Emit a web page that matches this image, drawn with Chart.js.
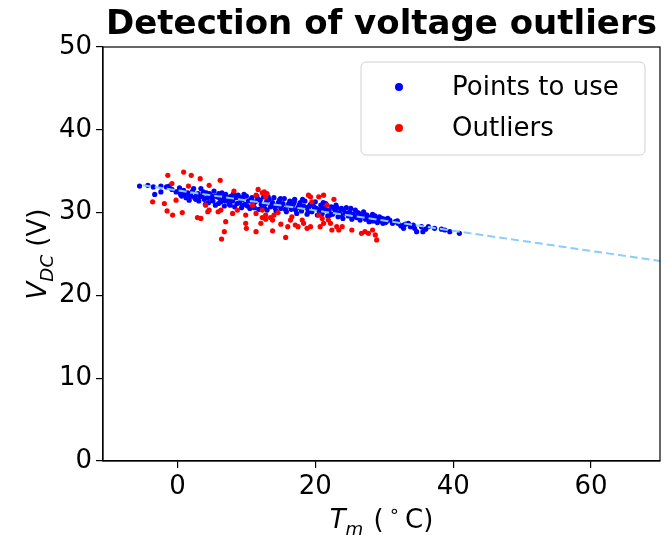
<!DOCTYPE html>
<html lang="en">
<head>
<meta charset="UTF-8">
<title>Detection of voltage outliers</title>
<script src="https://cdn.jsdelivr.net/npm/chart.js"></script>
<style>
    body { margin: 0; padding: 0; background: #fff; }
    #chart { display: block; }
</style>
</head>
<body>
<canvas id="chart" width="664" height="536"></canvas>
<script>
// points kept by the fit (T_m in °C, V_DC in V)
const usedT = [
    -5.5, -4.3, -3.5, -3.3, -2.4, -2.4, -1.6, -1.2, -0.8, -0.2,
    0.3, 0.6, 1.0, 1.7, 1.7, 2.2, 2.5, 2.8, 3.1, 3.4,
    3.6, 3.9, 4.2, 4.5, 4.8, 5.0, 5.3, 5.5, 5.8, 6.0,
    6.3, 6.6, 6.8, 7.0, 7.3, 7.5, 7.8, 8.0, 8.3, 8.5,
    8.8, 9.0, 9.3, 9.5, 9.8, 10.0, 10.3, 10.5, 10.8, 11.0,
    11.3, 11.5, 11.8, 12.0, 12.3, 12.5, 12.8, 13.0, 13.3, 13.5,
    13.8, 14.0, 14.3, 14.5, 14.8, 15.0, 15.3, 15.5, 15.8, 16.0,
    16.3, 16.5, 16.8, 17.0, 17.3, 17.5, 17.8, 18.0, 18.3, 18.5,
    18.8, 19.0, 19.3, 19.5, 19.8, 20.0, 20.3, 20.5, 20.8, 21.0,
    21.3, 21.5, 21.8, 22.0, 22.3, 22.5, 22.8, 23.0, 23.3, 23.5,
    23.8, 24.0, 24.3, 24.5, 24.8, 25.0, 25.3, 25.5, 25.8, 26.0,
    26.3, 26.5, 26.8, 27.0, 27.3, 27.5, 27.8, 28.0, 28.3, 28.5,
    28.8, 29.0, 29.3, 29.5, 29.8, 30.0, 30.3, 30.8, 31.6, 32.0,
    32.8, 32.8, 33.5, 34.2, 34.4, 34.7, 35.4, 35.6, 36.4, 37.3,
    38.3, 39.5, 40.9,
    0.15, 0.45, 0.9, 1.25, 1.5, 2.0, 2.35, 2.65, 3.0, 3.25,
    3.75, 4.05, 4.35, 4.65, 5.15, 5.45, 5.95, 6.15, 6.45, 6.95,
    7.15, 7.65, 7.95, 8.15, 8.65, 9.15, 9.45, 9.65, 10.15, 10.65,
    10.95, 11.15, 11.65, 12.15, 12.65, 12.95, 13.15, 13.65, 14.15, 14.65,
    14.95, 15.15, 15.65, 16.15, 16.65, 16.95, 17.15, 17.65, 18.15, 18.65,
    18.95, 19.15, 19.65, 20.15, 20.65, 20.95, 21.15, 21.65, 22.15, 22.65,
    22.95, 23.15, 23.65, 24.15, 24.65, 25.15, 25.65, 26.15, 26.65, 27.15,
    27.65, 28.15, 28.65, 29.15, 29.65, 30.15, 30.5, 31.2, 31.9, 32.4,
    33.1, 33.8, 36.0, 38.8
];
const usedV = [
    33.2, 33.3, 33.1, 32.2, 33.2, 32.5, 33.1, 33.2, 32.8, 32.5,
    33.0, 32.0, 32.3, 31.9, 31.5, 32.6, 31.8, 32.2, 31.4, 32.9,
    32.0, 31.6, 32.4, 31.2, 32.1, 31.7, 32.6, 30.9, 31.9, 32.3,
    31.3, 31.8, 30.8, 32.2, 31.5, 31.0, 32.0, 31.4, 30.7, 31.8,
    32.1, 31.2, 30.6, 31.6, 31.0, 32.0, 31.4, 30.5, 31.8, 30.9,
    31.3, 32.0, 30.4, 31.5, 30.8, 31.9, 31.1, 30.3, 31.6, 30.7,
    31.2, 31.8, 30.2, 30.9, 31.5, 30.5, 31.1, 31.7, 30.1, 30.8,
    31.4, 30.4, 31.0, 31.6, 29.9, 30.6, 31.2, 30.2, 30.8, 31.4,
    29.8, 30.5, 31.0, 30.1, 30.7, 31.3, 29.7, 30.3, 30.9, 29.9,
    30.5, 31.1, 29.6, 30.2, 30.7, 29.8, 30.4, 30.9, 29.5, 30.0,
    30.5, 29.3, 29.9, 30.6, 29.6, 30.1, 29.2, 29.8, 30.3, 29.4,
    29.9, 29.1, 29.6, 30.1, 29.2, 29.7, 28.9, 29.4, 29.8, 29.0,
    29.3, 28.8, 29.5, 29.0, 28.7, 29.2, 28.9, 29.1, 28.9, 28.7,
    28.5, 28.1, 28.7, 28.5, 28.1, 27.7, 28.3, 27.7, 28.3, 28.1,
    28.0, 27.7, 27.5,
    32.6, 32.2, 32.7, 31.8, 32.4, 32.0, 32.9, 31.6, 32.3, 31.9,
    32.5, 31.0, 31.8, 32.3, 31.4, 32.0, 31.1, 31.7, 32.4, 31.4,
    31.9, 30.9, 31.7, 32.3, 31.1, 31.8, 30.9, 32.2, 30.8, 31.6,
    31.1, 30.6, 31.7, 31.0, 30.5, 31.4, 31.9, 31.0, 30.6, 31.2,
    31.7, 30.9, 30.4, 31.1, 30.7, 31.3, 30.3, 30.9, 31.6, 30.6,
    30.1, 30.8, 31.2, 30.5, 30.0, 30.6, 31.2, 30.3, 29.7, 30.6,
    30.1, 30.6, 29.7, 30.3, 29.9, 30.5, 29.5, 30.0, 29.5, 29.8,
    29.4, 29.0, 29.6, 29.2, 29.3, 28.8, 29.3, 28.7, 29.0, 28.4,
    28.6, 28.3, 28.0, 27.9
];

// outliers
const outT = [
    -3.6, -1.9, -0.2, -1.5, -0.7, 0.7, -1.4, 0.9, 2.0, -0.8,
    1.6, 3.3, 4.6, 6.2, 2.9, 3.4, 4.1, 4.6, 4.4, 5.9,
    6.3, 7.0, 6.8, 6.4, 8.2, 8.0, 8.7, 9.9, 9.9, 10.0,
    11.4, 11.7, 12.3, 12.8, 13.8, 11.4, 12.3, 12.8, 13.5, 10.9,
    11.4, 12.6, 13.0, 12.3, 12.8, 12.1, 13.8, 14.0, 15.7, 16.4,
    16.6, 17.1, 18.1, 18.3, 18.8, 19.3, 19.0, 19.3, 20.5, 21.2,
    19.5, 20.5, 21.0, 21.2, 20.7, 22.7, 21.7, 21.9, 22.2, 22.4,
    23.1, 23.4, 23.9, 25.3, 26.7, 27.2, 27.7, 28.3, 28.7, 28.9,
    15.0, 14.6, 17.5, 16.0
];
const outV = [
    31.3, 31.1, 31.5, 30.2, 29.7, 30.0, 34.5, 34.9, 34.5, 33.5,
    33.2, 34.1, 33.3, 33.9, 29.4, 29.3, 30.9, 30.3, 30.1, 30.1,
    30.3, 28.9, 27.7, 26.8, 32.6, 29.9, 30.3, 29.7, 28.7, 28.1,
    27.7, 32.8, 32.4, 31.9, 27.8, 29.9, 29.4, 29.2, 29.4, 30.9,
    32.1, 32.5, 32.3, 30.3, 29.7, 28.7, 29.1, 29.7, 27.0, 29.1,
    29.5, 28.5, 29.1, 28.7, 28.1, 28.3, 32.1, 31.9, 31.9, 32.1,
    31.3, 29.7, 29.3, 28.7, 28.3, 31.6, 30.9, 29.1, 28.7, 27.9,
    28.3, 27.9, 28.3, 27.9, 27.5, 27.7, 27.5, 27.9, 27.3, 26.7,
    28.6, 30.0, 28.3, 28.3
];

// fitted line end points
const fitT = [-5, 70];
const fitV = [33.3, 24.15];

const xTicks = [0, 20, 40, 60];
const yTicks = [0, 10, 20, 30, 40, 50];

const FONT = 'DejaVu Sans';
const BLUE = '#0000ff';
const RED = '#ff0000';

function pts(xs, ys) {
    return xs.map((x, i) => ({ x: x, y: ys[i] }));
}

// draws a label made of parts (italic / sub / sup), centred on (cx, cy)
function drawMathText(ctx, parts, cx, cy, size, rotate) {
    const small = size * 0.7;
    const fontFor = p => (p.it ? 'italic ' : '') + (p.sub || p.sup ? small : size) + 'px "' + FONT + '"';
    let total = 0;
    parts.forEach(p => { ctx.font = fontFor(p); p.w = ctx.measureText(p.t).width + (p.gap || 0); total += p.w; });
    ctx.save();
    ctx.translate(cx, cy);
    if (rotate) ctx.rotate(-Math.PI / 2);
    ctx.fillStyle = '#000';
    ctx.textBaseline = 'alphabetic';
    ctx.textAlign = 'left';
    let x = -total / 2;
    parts.forEach(p => {
        ctx.font = fontFor(p);
        let dy = 0;
        if (p.sub) dy = size * 0.28;
        if (p.sup) dy = -size * 0.42;
        ctx.fillText(p.t, x, dy);
        x += p.w;
    });
    ctx.restore();
}

const decorations = {
    id: 'decorations',
    afterDatasetsDraw(chart) {
        const ctx = chart.ctx;
        const a = chart.chartArea;
        // legend box
        const w = 284, h = 93;
        const left = a.right - 15 - w, top = a.top + 15;
        ctx.save();
        ctx.beginPath();
        ctx.roundRect(left, top, w, h, 5);
        ctx.fillStyle = 'rgba(255,255,255,0.85)';
        ctx.fill();
        ctx.strokeStyle = '#d0d0d0';
        ctx.lineWidth = 1;
        ctx.stroke();
        const entries = chart.data.datasets.filter(d => d.inLegend);
        entries.forEach((d, i) => {
            const y = top + 25 + i * 41;
            ctx.beginPath();
            ctx.arc(left + 38, y, 4, 0, Math.PI * 2);
            ctx.fillStyle = d.backgroundColor;
            ctx.fill();
            ctx.fillStyle = '#000';
            ctx.font = '26px "' + FONT + '"';
            ctx.textBaseline = 'middle';
            ctx.fillText(d.label, left + 91, y + 1);
        });
        ctx.restore();
    },
    afterDraw(chart) {
        const ctx = chart.ctx;
        const a = chart.chartArea;
        ctx.save();
        ctx.strokeStyle = '#000';
        ctx.lineWidth = 1.2;
        ctx.strokeRect(a.left, a.top, a.right - a.left, a.bottom - a.top);
        ctx.restore();
        drawMathText(ctx, [{ t: 'V', it: true }, { t: 'DC', it: true, sub: true }, { t: ' (V)' }],
            46, (a.top + a.bottom) / 2, 26, true);
        drawMathText(ctx, [{ t: 'T', it: true }, { t: 'm', it: true, sub: true, gap: 2 }, { t: ' (', gap: 5 },
            { t: '\u2218', sup: true, gap: 5 }, { t: 'C)' }],
            (a.left + a.right) / 2, 528, 26, false);
    }
};

const tickFont = { family: FONT, size: 26 };

new Chart(document.getElementById('chart'), {
    type: 'scatter',
    data: {
        datasets: [{
            label: 'Points to use',
            inLegend: true,
            data: pts(usedT, usedV),
            backgroundColor: BLUE,
            borderWidth: 0,
            pointRadius: 2.6,
            order: 2
        }, {
            label: 'Outliers',
            inLegend: true,
            data: pts(outT, outV),
            backgroundColor: RED,
            borderWidth: 0,
            pointRadius: 2.6,
            order: 1
        }, {
            label: 'fit',
            data: pts(fitT, fitV),
            showLine: true,
            borderColor: '#87cefa',
            borderWidth: 2,
            borderDash: [8, 4],
            pointRadius: 0,
            order: 0
        }]
    },
    options: {
        responsive: false,
        animation: false,
        layout: { padding: { left: 0, right: 3, top: 0, bottom: 0 } },
        plugins: {
            legend: { display: false },
            tooltip: { enabled: false },
            title: {
                display: true,
                fullSize: false,
                text: 'Detection of voltage outliers',
                color: '#000',
                font: { family: FONT, size: 34, weight: 'bold', lineHeight: 1.0 },
                padding: { top: 8, bottom: 5 }
            }
        },
        scales: {
            x: {
                type: 'linear',
                min: -10.8,
                max: 70,
                afterBuildTicks: s => { s.ticks = xTicks.map(v => ({ value: v })); },
                afterFit: s => { s.height = 75; },
                ticks: { font: tickFont, color: '#000', padding: 4, maxRotation: 0 },
                grid: { drawOnChartArea: false, drawTicks: true, tickLength: 7, color: '#000', lineWidth: 1.2 },
                border: { color: '#000', width: 1.2 }
            },
            y: {
                min: 0,
                max: 50,
                afterBuildTicks: s => { s.ticks = yTicks.map(v => ({ value: v })); },
                afterFit: s => { s.width = 103; },
                ticks: { font: tickFont, color: '#000', padding: 4 },
                grid: { drawOnChartArea: false, drawTicks: true, tickLength: 7, color: '#000', lineWidth: 1.2 },
                border: { color: '#000', width: 1.2 }
            }
        }
    },
    plugins: [decorations]
});
</script>
</body>
</html>
